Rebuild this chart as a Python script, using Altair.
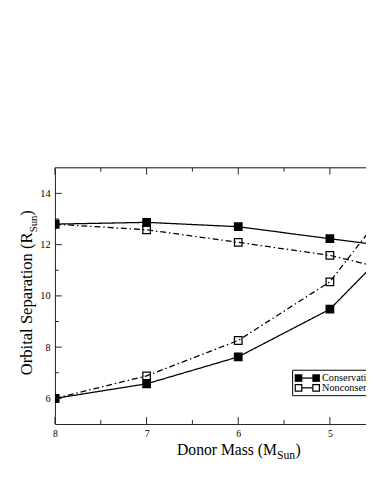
import altair as alt
import pandas as pd

# ---- data ----
mass = [8, 7, 6, 5, 4.5]
cons_upper = [12.8, 12.87, 12.70, 12.23, 12.0]
cons_lower = [6.0, 6.57, 7.62, 9.48, 11.3]
noncons_upper = [12.8, 12.58, 12.09, 11.58, 11.15]
noncons_lower = [6.0, 6.88, 8.26, 10.55, 12.85]
series_names = ["Conservative", "Nonconservative"]

x_major = [8, 7, 6, 5]
x_minor = [7.5, 6.5, 5.5]
y_major = [14, 12, 10, 8, 6]
y_minor = [13, 11, 9, 7]

rows = []
for s, branches in [(series_names[0], [("u", cons_upper), ("l", cons_lower)]),
                    (series_names[1], [("u", noncons_upper), ("l", noncons_lower)])]:
    for b, vals in branches:
        for i, (m, v) in enumerate(zip(mass, vals)):
            rows.append({"mass": m, "sep": v, "series": s, "key": s + b, "idx": i})
df = pd.DataFrame(rows)

W, H = 318, 262
FONT = "Liberation Serif"
xs = alt.Scale(domain=[4.606, 8], reverse=True, nice=False, zero=False)
ys = alt.Scale(domain=[5, 15], nice=False, zero=False)

x_axis = alt.Axis(values=x_major, ticks=False, grid=False, title=None,
                  labelFont=FONT, labelFontSize=10, labelColor="black",
                  labelPadding=5, domainColor="#222", labelFlush=False, format="d")
y_axis = alt.Axis(values=y_major, ticks=False, grid=False, title=None,
                  labelFont=FONT, labelFontSize=10.5, labelColor="black",
                  labelPadding=5, domainColor="#222", format="d")
X = alt.X("mass:Q", scale=xs, axis=x_axis)
Y = alt.Y("sep:Q", scale=ys, axis=y_axis)

base = alt.Chart(df)
dash = alt.Scale(domain=series_names, range=[[1, 0], [6, 3, 1.5, 3]])
lines = base.mark_line(color="black", strokeWidth=1.3, clip=True).encode(
    x=X, y=Y, detail="key:N", order="idx:Q",
    strokeDash=alt.StrokeDash("series:N", scale=dash, legend=None))
pts_c = base.transform_filter(alt.datum.series == series_names[0]).mark_point(
    shape="square", size=80, filled=True, color="black", opacity=1, clip=True).encode(x=X, y=Y)
pts_n = base.transform_filter(alt.datum.series == series_names[1]).mark_point(
    shape="square", size=60, filled=False, color="black", strokeWidth=1.3, opacity=1,
    clip=True).encode(x=X, y=Y)

# inward ticks
def tick_layer(vals, field, length, side):
    d = pd.DataFrame({field: vals})
    c = alt.Chart(d).mark_rule(color="#222", strokeWidth=1)
    if field == "mass":
        enc = dict(x=X)
        if side == "bottom":
            enc.update(y=alt.value(H), y2=alt.value(H - length))
        else:
            enc.update(y=alt.value(0), y2=alt.value(length))
    else:
        enc = dict(y=Y, x=alt.value(0), x2=alt.value(length))
    return c.encode(**enc)

ticks = [tick_layer(x_major, "mass", 7, "bottom"), tick_layer(x_minor, "mass", 4, "bottom"),
         tick_layer(x_major, "mass", 7, "top"), tick_layer(x_minor, "mass", 4, "top"),
         tick_layer(y_major, "sep", 7, "left"), tick_layer(y_minor, "sep", 4, "left")]

one = pd.DataFrame({"a": [0]})
top_line = alt.Chart(one).mark_rule(color="#222", strokeWidth=1).encode(
    x=alt.value(0), x2=alt.value(W), y=alt.value(0))

def txt(t, x, y, size, align="left", angle=0):
    return alt.Chart(pd.DataFrame({"t": [t]})).mark_text(
        font=FONT, fontSize=size, align=align, baseline="alphabetic", angle=angle,
        color="black").encode(text="t:N", x=alt.value(x), y=alt.value(y))

titles = [
    txt("Donor Mass (M", 227, 294, 16, "right"),
    txt("Sun", 227, 298, 12, "left"),
    txt(")", 246, 294, 16, "left"),
    txt("Orbital Separation (R", -23, 66, 17, "right", 270),
    txt("Sun", -18, 66, 11, "left", 270),
    txt(")", -23, 49, 17, "left", 270),
]

# legend box
legend = [alt.Chart(one).mark_rect(fill="white", stroke="black", strokeWidth=1).encode(
    x=alt.value(243), x2=alt.value(340), y=alt.value(207), y2=alt.value(233))]
for i, name in enumerate(series_names):
    yy = 215 + 10 * i
    legend.append(alt.Chart(one).mark_rule(color="black", strokeWidth=1.3).encode(
        x=alt.value(249), x2=alt.value(267), y=alt.value(yy)))
    for xx in (249, 267):
        if i == 0:
            legend.append(alt.Chart(one).mark_point(shape="square", size=60, filled=True,
                                                    color="black", opacity=1).encode(
                x=alt.value(xx), y=alt.value(yy)))
        else:
            legend.append(alt.Chart(one).mark_point(shape="square", size=45, filled=True,
                                                    fill="white", stroke="black",
                                                    strokeWidth=1.2, opacity=1).encode(
                x=alt.value(xx), y=alt.value(yy)))
    legend.append(alt.Chart(pd.DataFrame({"t": [name]})).mark_text(
        font=FONT, fontSize=10.5, align="left", baseline="middle", color="black").encode(
        text="t:N", x=alt.value(273), y=alt.value(yy)))

chart = alt.layer(lines, pts_c, pts_n, *ticks, top_line, *titles, *legend).properties(
    width=W, height=H,
    autosize=alt.AutoSizeParams(type="none"),
    padding={"left": 48, "top": 158, "right": 0, "bottom": 57},
).configure_view(strokeWidth=0).configure(background="white")

chart.save("out.html", embed_options={"renderer": "svg", "actions": False})
